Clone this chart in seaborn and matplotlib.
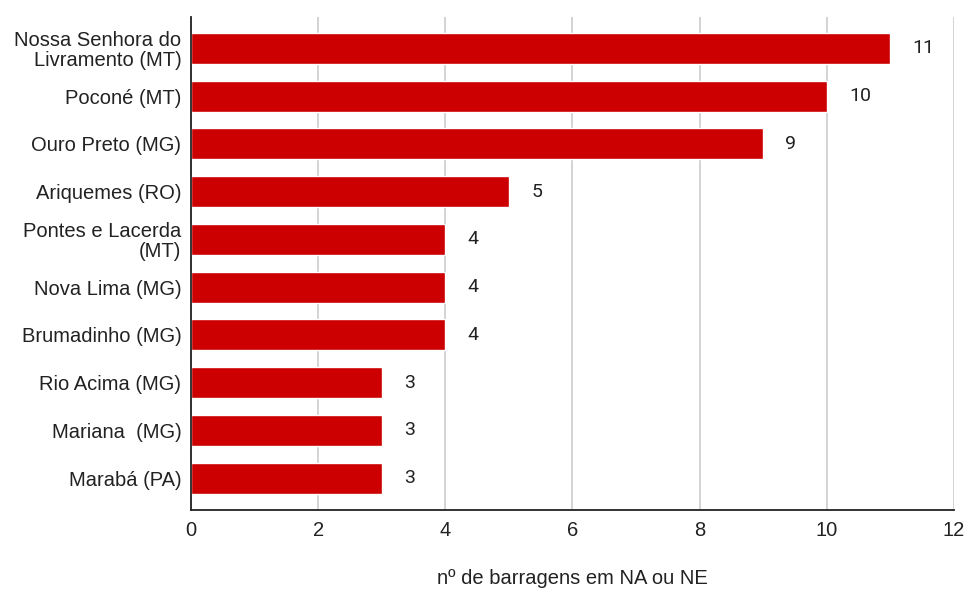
import matplotlib
matplotlib.use('Agg')
import matplotlib.pyplot as plt
import seaborn as sns
import pandas as pd

municipios = [
    'Nossa Senhora do\nLivramento (MT)',
    'Poconé (MT)',
    'Ouro Preto (MG)',
    'Ariquemes (RO)',
    'Pontes e Lacerda\n(MT)',
    'Nova Lima (MG)',
    'Brumadinho (MG)',
    'Rio Acima (MG)',
    'Mariana  (MG)',
    'Marabá (PA)',
]
barragens = [11, 10, 9, 5, 4, 4, 4, 3, 3, 3]

df = pd.DataFrame({'municipio': municipios, 'n': barragens})

sns.set_style('white')
plt.rcParams['font.family'] = ['Liberation Sans', 'DejaVu Sans']

fig = plt.figure(figsize=(9.67, 5.9), dpi=100)
ax = fig.add_axes([0.1975, 0.1356, 0.789, 0.8356])

sns.barplot(data=df, x='n', y='municipio', color='#cc0000', saturation=1,
            width=0.65, ax=ax, zorder=3)

ax.set_xlim(0, 12)
ax.set_ylim(9.67, -0.66)
ax.set_xticks(range(0, 13, 2))
ax.grid(axis='x', color='#cccccc', linewidth=1.2, zorder=0)
ax.set_axisbelow(True)

for s in ['top', 'right']:
    ax.spines[s].set_visible(False)
for s in ['left', 'bottom']:
    ax.spines[s].set_color('#222222')
    ax.spines[s].set_linewidth(1.3)
    ax.spines[s].set_zorder(4)

ax.tick_params(axis='both', length=0, labelsize=14.5, colors='#222222')
ax.tick_params(axis='y', pad=7)
ax.tick_params(axis='x', pad=8)
for lbl in ax.get_yticklabels():
    lbl.set_linespacing(1.05)
ax.set_ylabel('')
ax.set_xlabel('nº de barragens em NA ou NE', fontsize=14.5, color='#222222', labelpad=21)

for c in ax.containers:
    ax.bar_label(c, padding=16, fontsize=14, color='#222222', family='Roboto')

fig.savefig('out.png', dpi=100)
